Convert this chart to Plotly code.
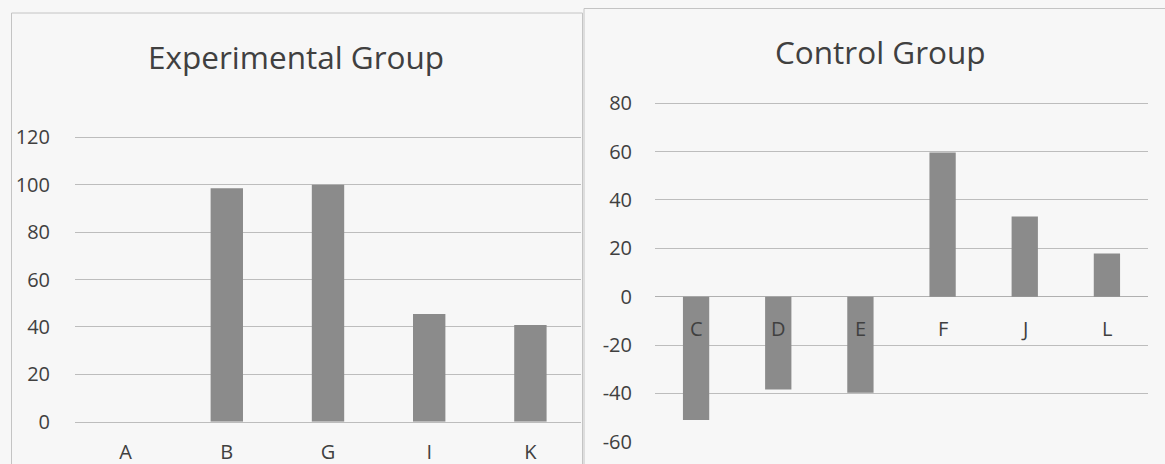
import plotly.graph_objects as go

# ---- data ----
exp_categories = ["A", "B", "G", "I", "K"]
exp_values = [0, 98.5, 100, 45.4, 40.8]
ctrl_categories = ["C", "D", "E", "F", "J", "L"]
ctrl_values = [-51, -38.4, -39.7, 59.6, 33.2, 17.9]
exp_title = "Experimental Group"
ctrl_title = "Control Group"
exp_yticks = [0, 20, 40, 60, 80, 100, 120]
ctrl_yticks = [-60, -40, -20, 0, 20, 40, 60, 80]

W, H = 1165, 464
FONT = "Open Sans"
TXT = "#404040"
GRID = "#bdbdbd"
BAR = "#8b8b8b"
BG = "#f7f7f7"

def px(x):
    return x / W

def py(y):
    return (H - y) / H

fig = go.Figure()
fig.add_trace(go.Bar(x=exp_categories, y=exp_values, xaxis="x", yaxis="y",
                     marker=dict(color=BAR, line=dict(width=0)),
                     showlegend=False))
fig.add_trace(go.Bar(x=ctrl_categories, y=ctrl_values, xaxis="x2", yaxis="y2",
                     marker=dict(color=BAR, line=dict(width=0)),
                     showlegend=False))

tickfont = dict(family=FONT, size=20, color=TXT)

# headroom so the top gridline is drawn
HEAD = 1.5
exp_top = 120 + HEAD
ctrl_top = 80 + HEAD

fig.update_layout(
    width=W, height=H, autosize=False,
    margin=dict(l=0, r=0, t=0, b=0, pad=0),
    paper_bgcolor=BG, plot_bgcolor=BG,
    bargap=0.68,
    font=dict(family=FONT, color=TXT),
    xaxis=dict(domain=[px(75), px(581)], type="category", showgrid=False,
               showline=True, linecolor=GRID, linewidth=1, automargin=False,
               tickfont=tickfont, ticks="", ticklabelstandoff=12, anchor="y"),
    yaxis=dict(domain=[py(421.7), py(137.3 - HEAD * 2.37)], range=[0, exp_top],
               tickvals=exp_yticks, ticktext=[str(v) for v in exp_yticks],
               showgrid=True, gridcolor=GRID, gridwidth=1, zeroline=False,
               automargin=False,
               showline=False, tickfont=tickfont, ticks="", ticklabelstandoff=24,
               anchor="x"),
    xaxis2=dict(domain=[px(655), px(1148)], type="category", showgrid=False,
                showline=False, showticklabels=False, ticks="", anchor="y2",
                automargin=False),
    yaxis2=dict(domain=[py(441.7), py(103.3 - HEAD * 2.417)], range=[-60, ctrl_top],
                tickvals=ctrl_yticks, ticktext=[str(v) for v in ctrl_yticks],
                showgrid=True, gridcolor=GRID, gridwidth=1, zeroline=True,
                zerolinecolor="#b0b0b0", zerolinewidth=1, automargin=False,
                showline=False, tickfont=tickfont, ticks="", ticklabelstandoff=22,
                anchor="x2"),
)

annotations = [
    dict(text=exp_title, x=px(296), y=py(57), xref="paper", yref="paper",
         showarrow=False, xanchor="center", yanchor="middle",
         font=dict(family=FONT, size=31.5, color=TXT)),
    dict(text=ctrl_title, x=px(880), y=py(52), xref="paper", yref="paper",
         showarrow=False, xanchor="center", yanchor="middle",
         font=dict(family=FONT, size=31.5, color=TXT)),
]
for c in ctrl_categories:
    annotations.append(dict(text=c, x=c, y=0, xref="x2", yref="y2", showarrow=False,
                            xanchor="center", yanchor="middle", yshift=-32,
                            font=dict(family=FONT, size=20, color=TXT)))
fig.update_layout(annotations=annotations)

fig.update_layout(shapes=[
    dict(type="rect", xref="paper", yref="paper", x0=px(11.5), x1=px(582.5),
         y0=py(470), y1=py(13), line=dict(color="#c4c4c4", width=1), layer="below"),
    dict(type="rect", xref="paper", yref="paper", x0=px(584), x1=px(1175),
         y0=py(470), y1=py(8.5), line=dict(color="#c4c4c4", width=1), layer="below"),
])

fig.write_html(
    "out.html",
    config={"displayModeBar": False},
    post_script="document.body.style.margin='0';document.body.style.overflow='hidden';",
)
